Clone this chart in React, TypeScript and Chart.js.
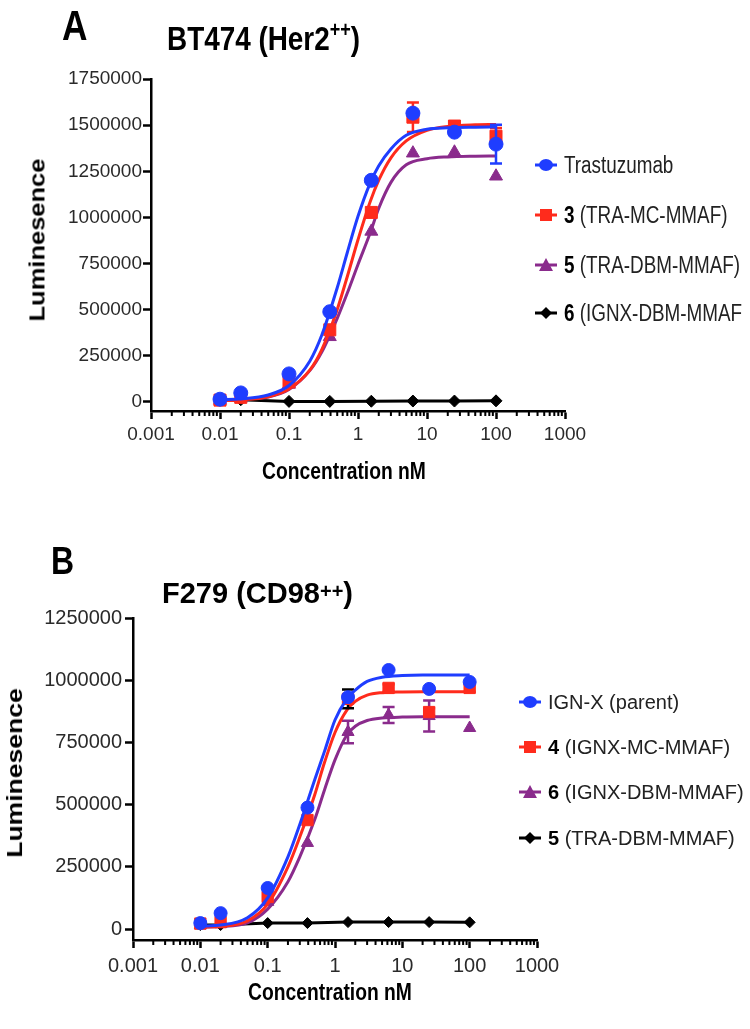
import React, { useEffect, useRef } from 'react';
import { Chart, registerables } from 'chart.js';

Chart.register(...registerables);

// ---------- data ----------
const concentrations = [0.01, 0.02, 0.1, 0.39, 1.56, 6.25, 25, 100];
const fitConcentrations = [0.01, 0.02, 0.05, 0.1, 0.2, 0.3, 0.5, 0.7, 1, 1.5, 2, 3, 5, 10, 20, 50, 100];

const xTickValues = [0.001, 0.01, 0.1, 1, 10, 100, 1000];
const xTickLabels = ['0.001', '0.01', '0.1', '1', '10', '100', '1000'];
const minorMultipliers = [2, 3, 4, 5, 6, 7, 8, 9];

// Panel A: BT474 (Her2++)
const yTicksA = [0, 250000, 500000, 750000, 1000000, 1250000, 1500000, 1750000];
const trastuzumabA = [15000, 49000, 152000, 489000, 1201000, 1565000, 1462000, 1397000];
const trastuzumabErrA = [0, 0, 0, 0, 0, 0, 0, 105000];
const traMcA = [10000, 25000, 109000, 391000, 1027000, 1543000, 1495000, 1440000];
const traMcErrA = [0, 0, 0, 0, 0, 80000, 25000, 45000];
const traDbmA = [8000, 20000, 95000, 353000, 924000, 1348000, 1353000, 1223000];
const ignxDbmA = [10000, 12000, 3000, 3000, 4000, 5000, 5000, 6000];
const trastuzumabFitA = [12000, 17000, 38000, 89000, 221000, 364000, 619000, 810000, 1006000, 1186000, 1280000, 1371000, 1445000, 1478000, 1486000, 1489000, 1490000];
const traMcFitA = [7000, 11000, 28000, 70000, 172000, 285000, 501000, 680000, 879000, 1085000, 1202000, 1323000, 1415000, 1472000, 1493000, 1502000, 1504000];
const traDbmFitA = [9000, 15000, 27000, 68000, 170000, 272000, 453000, 590000, 745000, 915000, 1050000, 1190000, 1285000, 1318000, 1328000, 1332000, 1333000];

// Panel B: F279 (CD98++)
const yTicksB = [0, 250000, 500000, 750000, 1000000, 1250000];
const ignParentB = [24000, 64000, 165000, 488000, 932000, 1041000, 965000, 993000];
const ignxMcB = [22000, 28000, 129000, 438000, 925000, 969000, 872000, 969000];
const ignxMcErrB = [0, 0, 0, 0, 38000, 15000, 15000, 15000];
const ignxDbmB = [15000, 20000, 109000, 346000, 792000, 860000, 856000, 808000];
const ignxDbmErrB = [0, 0, 0, 0, 45000, 32000, 62000, 0];
const traDbmB = [16000, 16000, 24000, 24000, 28000, 28000, 28000, 27000];
const ignParentFitB = [12000, 16000, 45000, 125000, 290000, 420000, 600000, 715000, 840000, 925000, 960000, 995000, 1012000, 1019000, 1021000, 1021000, 1021000];
const ignxMcFitB = [8000, 11000, 33000, 100000, 250000, 370000, 540000, 670000, 790000, 880000, 915000, 940000, 950000, 953000, 954000, 954000, 954000];
const ignxDbmFitB = [8000, 10000, 25000, 80000, 190000, 290000, 440000, 560000, 680000, 780000, 815000, 838000, 848000, 852000, 853000, 853000, 853000];

// ---------- styles ----------
const BLUE = '#1f3dff';
const RED = '#ff2b1c';
const PURPLE = '#8a2b8c';
const BLACK = '#000000';
const ARIAL = '"Liberation Sans", Arial, Helvetica, sans-serif';
const SQUEEZE = 0.82;

const allXTicks: number[] = [];
for (let i = 0; i < xTickValues.length; i++) {
  allXTicks.push(xTickValues[i]);
  if (i < xTickValues.length - 1) {
    for (const m of minorMultipliers) allXTicks.push(+(m * xTickValues[i]).toPrecision(6));
  }
}
const minorXTicks = allXTicks.filter((v) => !xTickValues.includes(v));
const majorLabel = (v: number) => {
  const idx = xTickValues.findIndex((t) => Math.abs(t - v) / t < 1e-6);
  return idx >= 0 ? xTickLabels[idx] : '';
};

const errorBarPlugin = {
  id: 'errorBars',
  beforeDatasetDraw(chart: any, args: any) {
    const ds = chart.data.datasets[args.index];
    if (!ds.errors) return;
    const { ctx, scales } = chart;
    ctx.save();
    ctx.lineWidth = 2.5;
    ds.data.forEach((pt: any, i: number) => {
      const e = ds.errors[i];
      if (!e) return;
      const x = scales.x.getPixelForValue(pt.x);
      const y1 = scales.y.getPixelForValue(pt.y + e);
      const y2 = scales.y.getPixelForValue(pt.y - e);
      ctx.strokeStyle = (ds.errColors && ds.errColors[i]) || ds.borderColor;
      ctx.beginPath();
      ctx.moveTo(x, y1);
      ctx.lineTo(x, y2);
      ctx.moveTo(x - 6, y1);
      ctx.lineTo(x + 6, y1);
      ctx.moveTo(x - 6, y2);
      ctx.lineTo(x + 6, y2);
      ctx.stroke();
    });
    ctx.restore();
  },
};

const minorTickPlugin = {
  id: 'minorTicks',
  afterDraw(chart: any) {
    const { ctx, scales, chartArea } = chart;
    ctx.save();
    ctx.strokeStyle = '#000';
    ctx.lineWidth = 2;
    ctx.beginPath();
    minorXTicks.forEach((v) => {
      const x = scales.x.getPixelForValue(v);
      ctx.moveTo(x, chartArea.bottom);
      ctx.lineTo(x, chartArea.bottom + 5);
    });
    ctx.stroke();
    ctx.restore();
  },
};

type Series = {
  color: string;
  style: string;
  radius: number;
  values: number[];
  errors?: number[];
  errColors?: (string | null)[];
  fit?: number[];
  connect?: boolean;
};

function buildConfig(p: any, series: Series[]) {
  const datasets: any[] = [];
  series.forEach((s, si) => {
    datasets.push({
      data: concentrations.map((x, i) => ({ x, y: s.values[i] })),
      showLine: !!s.connect,
      borderColor: s.color,
      backgroundColor: s.color,
      borderWidth: s.connect ? 3 : 1,
      pointStyle: s.style,
      pointRadius: s.radius,
      pointBorderWidth: 1,
      pointBorderColor: s.color,
      pointBackgroundColor: s.color,
      errors: s.errors,
      errColors: s.errColors,
      order: si * 2,
    });
    if (s.fit) {
      datasets.push({
        data: fitConcentrations.map((x, i) => ({ x, y: s.fit![i] })),
        showLine: true,
        borderColor: s.color,
        borderWidth: 3,
        pointRadius: 0,
        cubicInterpolationMode: 'monotone',
        fill: false,
        order: si * 2 + 1,
      });
    }
  });

  return {
    type: 'scatter',
    data: { datasets },
    options: {
      responsive: false,
      animation: false,
      events: [],
      layout: { padding: { top: p.padTop, right: p.padRight, left: 0, bottom: 0 } },
      plugins: { legend: { display: false }, tooltip: { enabled: false }, title: { display: false } },
      scales: {
        x: {
          type: 'logarithmic',
          min: 0.001,
          max: 1000,
          afterFit: (s: any) => {
            s.height = p.xAxisH;
          },
          afterBuildTicks: (s: any) => {
            s.ticks = allXTicks.map((v) => ({ value: v }));
          },
          ticks: {
            autoSkip: false,
            maxRotation: 0,
            minRotation: 0,
            padding: p.xPad,
            color: '#2a2a2a',
            font: { family: ARIAL, size: p.tickSize },
            callback: (v: number) => majorLabel(v),
          },
          grid: {
            drawOnChartArea: false,
            tickLength: 8,
            tickWidth: 2.5,
            tickColor: (ctx: any) => (ctx.tick && majorLabel(ctx.tick.value) ? '#000' : 'rgba(0,0,0,0)'),
          },
          border: { color: '#000', width: 2.5 },
        },
        y: {
          type: 'linear',
          min: p.yMin,
          max: p.yMax,
          afterFit: (s: any) => {
            s.width = p.leftW;
          },
          afterBuildTicks: (s: any) => {
            s.ticks = p.yTicks.map((v: number) => ({ value: v }));
          },
          ticks: {
            padding: p.yPad,
            color: '#2a2a2a',
            font: { family: ARIAL, size: p.tickSize },
            callback: (v: number) => String(v),
          },
          grid: { drawOnChartArea: false, tickLength: 8, tickWidth: 2.5, tickColor: '#000' },
          border: { color: '#000', width: 2.5 },
        },
      },
    },
    plugins: [errorBarPlugin, minorTickPlugin],
  };
}

const seriesA: Series[] = [
  { color: BLUE, style: 'circle', radius: 7, values: trastuzumabA, errors: trastuzumabErrA, fit: trastuzumabFitA },
  { color: RED, style: 'rect', radius: 8.5, values: traMcA, errors: traMcErrA, fit: traMcFitA },
  { color: PURPLE, style: 'triangle', radius: 7.5, values: traDbmA, fit: traDbmFitA },
  { color: BLACK, style: 'rectRot', radius: 6, values: ignxDbmA, connect: true },
];

const seriesB: Series[] = [
  { color: BLUE, style: 'circle', radius: 6.5, values: ignParentB, fit: ignParentFitB },
  {
    color: RED,
    style: 'rect',
    radius: 8,
    values: ignxMcB,
    errors: ignxMcErrB,
    errColors: [null, null, null, null, BLACK, null, null, null],
    fit: ignxMcFitB,
  },
  { color: PURPLE, style: 'triangle', radius: 7, values: ignxDbmB, errors: ignxDbmErrB, fit: ignxDbmFitB },
  { color: BLACK, style: 'rectRot', radius: 5.5, values: traDbmB, connect: true },
];

const panelA = {
  padTop: 79,
  padRight: 750 - 565,
  leftW: 151,
  xAxisH: 500 - 411,
  yMin: -49000,
  yMax: 1750000,
  yTicks: yTicksA,
  tickSize: 19,
  xPad: 4,
  yPad: 1,
};

const panelB = {
  padTop: 618 - 500,
  padRight: 750 - 537,
  leftW: 133,
  xAxisH: 529 - 440,
  yMin: -44000,
  yMax: 1250000,
  yTicks: yTicksB,
  tickSize: 20,
  xPad: 6,
  yPad: 3,
};

function Marker({ shape, color, cx, cy }: { shape: string; color: string; cx: number; cy: number }) {
  let m: any = null;
  if (shape === 'circle') m = <ellipse cx={12} cy={8} rx={7} ry={6} fill={color} />;
  if (shape === 'rect') m = <rect x={6} y={2} width={12} height={12} fill={color} />;
  if (shape === 'triangle') m = <polygon points="12,1 19,14 5,14" fill={color} />;
  if (shape === 'diamond') m = <polygon points="12,2 18,8 12,14 6,8" fill={color} />;
  return (
    <svg width={24} height={16} style={{ position: 'absolute', left: cx - 12, top: cy - 8 }}>
      <line x1={1} y1={8} x2={23} y2={8} stroke={color} strokeWidth={3} />
      {m}
    </svg>
  );
}

const abs = (extra: any) => ({
  position: 'absolute' as const,
  whiteSpace: 'nowrap' as const,
  lineHeight: 1,
  margin: 0,
  fontFamily: ARIAL,
  ...extra,
});

export default function App() {
  const refA = useRef<HTMLCanvasElement>(null);
  const refB = useRef<HTMLCanvasElement>(null);

  useEffect(() => {
    const a = new Chart(refA.current as any, buildConfig(panelA, seriesA) as any);
    const b = new Chart(refB.current as any, buildConfig(panelB, seriesB) as any);
    return () => {
      a.destroy();
      b.destroy();
    };
  }, []);

  const legendA = [
    { shape: 'circle', color: BLUE, num: '', text: 'Trastuzumab' },
    { shape: 'rect', color: RED, num: '3', text: ' (TRA-MC-MMAF)' },
    { shape: 'triangle', color: PURPLE, num: '5', text: ' (TRA-DBM-MMAF)' },
    { shape: 'diamond', color: BLACK, num: '6', text: ' (IGNX-DBM-MMAF' },
  ];
  const legendAY = [165, 215, 265, 313];
  const legendB = [
    { shape: 'circle', color: BLUE, num: '', text: 'IGN-X (parent)' },
    { shape: 'rect', color: RED, num: '4', text: ' (IGNX-MC-MMAF)' },
    { shape: 'triangle', color: PURPLE, num: '6', text: ' (IGNX-DBM-MMAF)' },
    { shape: 'diamond', color: BLACK, num: '5', text: ' (TRA-DBM-MMAF)' },
  ];
  const legendBY = [702, 747, 792, 838];

  return (
    <div style={{ position: 'absolute', left: 0, top: 0, width: 750, height: 1029, background: '#fff', overflow: 'hidden', color: '#000' }}>
      <canvas ref={refA} width={750} height={500} style={{ position: 'absolute', left: 0, top: 0 }} />
      <canvas ref={refB} width={750} height={529} style={{ position: 'absolute', left: 0, top: 500 }} />

      {/* Panel A texts */}
      <div style={abs({ left: 62, top: 3.5, fontWeight: 'bold', fontSize: 43, transform: `scaleX(${SQUEEZE})`, transformOrigin: 'left center' })}>A</div>
      <div style={abs({ left: 167, top: 21, fontWeight: 'bold', fontSize: 34, transform: `scaleX(${SQUEEZE})`, transformOrigin: 'left center' })}>
        BT474 (Her2
        <span style={{ fontSize: 22, position: 'relative', top: -12.6 }}>++</span>)
      </div>
      <div
        style={abs({
          left: 37,
          top: 240,
          fontWeight: 'bold',
          fontSize: 25.5,
          transform: 'translate(-50%, -50%) rotate(-90deg) scaleY(0.85)',
        })}
      >
        Luminesence
      </div>
      <div style={abs({ left: 344, top: 472, fontWeight: 'bold', fontSize: 23.5, transform: `translate(-50%, -50%) scaleX(${SQUEEZE})` })}>
        Concentration nM
      </div>
      {legendA.map((it, i) => (
        <React.Fragment key={'la' + i}>
          <Marker shape={it.shape} color={it.color} cx={546} cy={legendAY[i]} />
          <div
            style={abs({
              left: 564,
              top: legendAY[i],
              fontSize: 23,
              color: '#222',
              transform: `translateY(-50%) scaleX(${SQUEEZE})`,
              transformOrigin: 'left center',
            })}
          >
            {it.num ? <b style={{ color: '#000' }}>{it.num}</b> : null}
            {it.text}
          </div>
        </React.Fragment>
      ))}

      {/* Panel B texts */}
      <div style={abs({ left: 51, top: 541, fontWeight: 'bold', fontSize: 39, transform: `scaleX(${SQUEEZE})`, transformOrigin: 'left center' })}>B</div>
      <div style={abs({ left: 162, top: 578.5, fontWeight: 'bold', fontSize: 29 })}>
        F279 (CD98
        <span style={{ fontSize: 20, position: 'relative', top: -5 }}>++</span>)
      </div>
      <div
        style={abs({
          left: 15,
          top: 773,
          fontWeight: 'bold',
          fontSize: 26.5,
          transform: 'translate(-50%, -50%) rotate(-90deg) scaleY(0.85)',
        })}
      >
        Luminesence
      </div>
      <div style={abs({ left: 330, top: 993, fontWeight: 'bold', fontSize: 23.5, transform: `translate(-50%, -50%) scaleX(${SQUEEZE})` })}>
        Concentration nM
      </div>
      {legendB.map((it, i) => (
        <React.Fragment key={'lb' + i}>
          <Marker shape={it.shape} color={it.color} cx={530} cy={legendBY[i]} />
          <div style={abs({ left: 548, top: legendBY[i], fontSize: 20, color: '#222', transform: 'translateY(-50%)' })}>
            {it.num ? <b style={{ color: '#000' }}>{it.num}</b> : null}
            {it.text}
          </div>
        </React.Fragment>
      ))}
    </div>
  );
}
